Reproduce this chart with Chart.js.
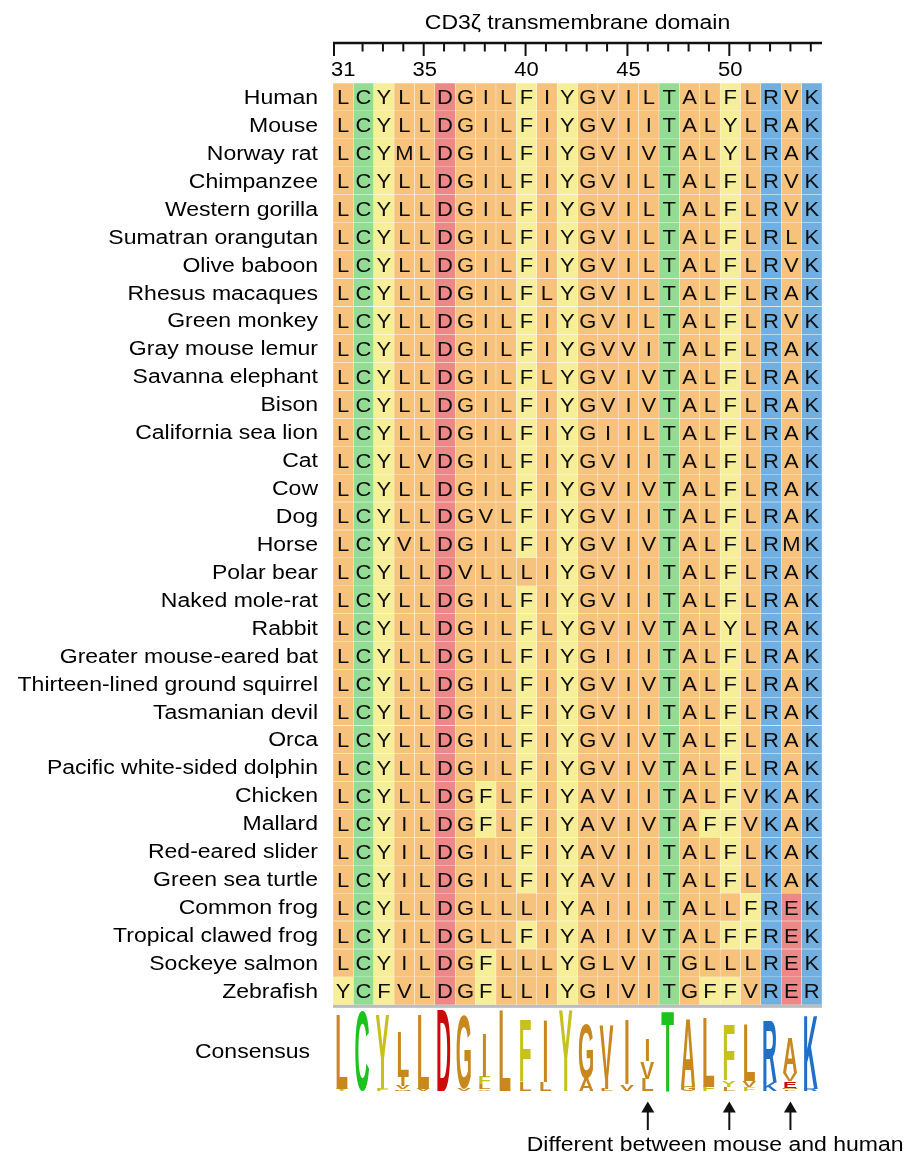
<!DOCTYPE html>
<html>
<head>
<meta charset="utf-8">
<title>CD3ζ transmembrane domain alignment</title>
<style>
  html, body { margin: 0; padding: 0; background: #ffffff; }
  #wrap { width: 913px; height: 1163px; position: relative; }
</style>
<script src="https://cdn.jsdelivr.net/npm/chart.js@4.4.1/dist/chart.umd.min.js"></script>
</head>
<body>
<div id="wrap"><canvas id="chart" width="913" height="1163"></canvas></div>
<script>
// Residue positions of the CD3ζ transmembrane domain
const positions = [31, 32, 33, 34, 35, 36, 37, 38, 39, 40, 41, 42,
                   43, 44, 45, 46, 47, 48, 49, 50, 51, 52, 53, 54];
// Positions that carry a number on the ruler
const labeledPositions = [31, 35, 40, 45, 50];

const species = [
  'Human', 'Mouse', 'Norway rat', 'Chimpanzee', 'Western gorilla',
  'Sumatran orangutan', 'Olive baboon', 'Rhesus macaques', 'Green monkey',
  'Gray mouse lemur', 'Savanna elephant', 'Bison', 'California sea lion',
  'Cat', 'Cow', 'Dog', 'Horse', 'Polar bear', 'Naked mole-rat', 'Rabbit',
  'Greater mouse-eared bat', 'Thirteen-lined ground squirrel',
  'Tasmanian devil', 'Orca', 'Pacific white-sided dolphin', 'Chicken',
  'Mallard', 'Red-eared slider', 'Green sea turtle', 'Common frog',
  'Tropical clawed frog', 'Sockeye salmon', 'Zebrafish'
];

// One aligned sequence per species, one residue per position
const sequences = [
  'LCYLLDGILFIYGVILTALFLRVK', // Human
  'LCYLLDGILFIYGVIITALYLRAK', // Mouse
  'LCYMLDGILFIYGVIVTALYLRAK', // Norway rat
  'LCYLLDGILFIYGVILTALFLRVK', // Chimpanzee
  'LCYLLDGILFIYGVILTALFLRVK', // Western gorilla
  'LCYLLDGILFIYGVILTALFLRLK', // Sumatran orangutan
  'LCYLLDGILFIYGVILTALFLRVK', // Olive baboon
  'LCYLLDGILFLYGVILTALFLRAK', // Rhesus macaques
  'LCYLLDGILFIYGVILTALFLRVK', // Green monkey
  'LCYLLDGILFIYGVVITALFLRAK', // Gray mouse lemur
  'LCYLLDGILFLYGVIVTALFLRAK', // Savanna elephant
  'LCYLLDGILFIYGVIVTALFLRAK', // Bison
  'LCYLLDGILFIYGIILTALFLRAK', // California sea lion
  'LCYLVDGILFIYGVIITALFLRAK', // Cat
  'LCYLLDGILFIYGVIVTALFLRAK', // Cow
  'LCYLLDGVLFIYGVIITALFLRAK', // Dog
  'LCYVLDGILFIYGVIVTALFLRMK', // Horse
  'LCYLLDVLLLIYGVIITALFLRAK', // Polar bear
  'LCYLLDGILFIYGVIITALFLRAK', // Naked mole-rat
  'LCYLLDGILFLYGVIVTALYLRAK', // Rabbit
  'LCYLLDGILFIYGIIITALFLRAK', // Greater mouse-eared bat
  'LCYLLDGILFIYGVIVTALFLRAK', // Thirteen-lined ground squirrel
  'LCYLLDGILFIYGVIITALFLRAK', // Tasmanian devil
  'LCYLLDGILFIYGVIVTALFLRAK', // Orca
  'LCYLLDGILFIYGVIVTALFLRAK', // Pacific white-sided dolphin
  'LCYLLDGFLFIYAVIITALFVKAK', // Chicken
  'LCYILDGFLFIYAVIVTAFFVKAK', // Mallard
  'LCYILDGILFIYAVIITALFLKAK', // Red-eared slider
  'LCYILDGILFIYAVIITALFLKAK', // Green sea turtle
  'LCYLLDGLLLIYAIIITALLFREK', // Common frog
  'LCYILDGLLFIYAIIVTALFFREK', // Tropical clawed frog
  'LCYILDGFLLLYGLVITGLLLREK', // Sockeye salmon
  'YCFVLDGFLLIYGIVITGFFVRER'  // Zebrafish
];

const domainTitle = 'CD3\u03B6 transmembrane domain';
const consensusLabel = 'Consensus';
const noteText = 'Different between mouse and human';

// ---- colour schemes (by residue chemistry) ----
const cellColor = {
  hydrophobic: '#f7c27b', aromatic: '#f6ee98', polar: '#93dc93',
  acidic: '#ec8888', basic: '#70afe0'
};
const logoColor = {
  hydrophobic: '#c8881e', aromatic: '#c6c11c', polar: '#1ec21e',
  acidic: '#cc0a0a', basic: '#1f70c6'
};
function residueClass(r) {
  if ('FYW'.includes(r)) return 'aromatic';
  if ('CTSNQ'.includes(r)) return 'polar';
  if ('DE'.includes(r)) return 'acidic';
  if ('RKH'.includes(r)) return 'basic';
  return 'hydrophobic';
}

// ---- geometry of the plot area ----
const AREA = { left: 333, right: 822, top: 83, bottom: 1111 };
const ROW_MAX = 36.3;                 // row axis runs from -0.5 to here
const MAX_BITS = Math.log2(20);       // information ceiling for protein
const LOGO_BASE_PX = 20;              // logo baseline above plot bottom
const LOGO_FULL_PX = 80;              // height of a fully conserved stack
const pxPerBit = LOGO_FULL_PX / MAX_BITS;
const logoMin = -LOGO_BASE_PX / pxPerBit;
const logoMax = logoMin + (AREA.bottom - AREA.top) / pxPerBit;

// ---- alignment rows: one floating bar per residue ----
const rowDatasets = sequences.map((seq, i) => {
  const residues = seq.split('');
  return {
    kind: 'row',
    label: species[i],
    residues,
    data: positions.map(() => [i - 0.5, i + 0.5]),
    backgroundColor: residues.map(r => cellColor[residueClass(r)]),
    borderColor: 'rgba(255,255,255,0.45)',
    borderWidth: 0.5,
    borderSkipped: false,
    grouped: false,
    barPercentage: 1,
    categoryPercentage: 1,
    yAxisID: 'y'
  };
});

// ---- consensus logo: letter stacks built from residue frequencies ----
const stacks = positions.map((p, j) => {
  const counts = {};
  sequences.forEach(s => { counts[s[j]] = (counts[s[j]] || 0) + 1; });
  const n = sequences.length;
  let entropy = 0;
  Object.values(counts).forEach(c => { const f = c / n; entropy -= f * Math.log2(f); });
  const info = MAX_BITS - entropy;
  return Object.entries(counts)
    .map(([r, c]) => ({ r, bits: (c / n) * info, c }))
    .sort((a, b) => a.bits - b.bits || a.r.localeCompare(b.r));
});
const stackDepth = Math.max(...stacks.map(s => s.length));
const logoDatasets = [];
for (let k = 0; k < stackDepth; k++) {
  const letters = [], data = [];
  stacks.forEach(st => {
    if (k < st.length) {
      let base = 0;
      for (let m = 0; m < k; m++) base += st[m].bits;
      data.push([base, base + st[k].bits]);
      letters.push(st[k].r);
    } else {
      data.push(null);
      letters.push(null);
    }
  });
  logoDatasets.push({
    kind: 'logo',
    label: 'consensus ' + k,
    letters,
    data,
    backgroundColor: 'rgba(0,0,0,0)',
    borderWidth: 0,
    grouped: false,
    barPercentage: 0.74,
    categoryPercentage: 1,
    yAxisID: 'yLogo'
  });
}

// Positions where human and mouse differ get an arrow
const humanSeq = sequences[species.indexOf('Human')];
const mouseSeq = sequences[species.indexOf('Mouse')];
const differingPositions = positions.filter((p, j) => humanSeq[j] !== mouseSeq[j]);

// ---- drawing helpers ----
const FONT = '20px "Liberation Sans", Arial, Helvetica, sans-serif';
const GLYPH_FONT = 'bold 100px "Liberation Sans", Arial, Helvetica, sans-serif';
function wideText(ctx, text, x, y, align, sx) {
  ctx.save();
  ctx.translate(x, y);
  ctx.scale(sx, 1);
  ctx.textAlign = align;
  ctx.textBaseline = 'alphabetic';
  ctx.fillText(text, 0, 0);
  ctx.restore();
}
// Logo glyph: stretched vertically to the stack slot; horizontally all
// letters share one scale (an "H" fills the slot), so narrow letters stay narrow.
function fillGlyph(ctx, ch, cx, top, w, h, color) {
  if (h < 0.2) return;
  ctx.save();
  ctx.font = GLYPH_FONT;
  const ref = ctx.measureText('H').width;
  const m = ctx.measureText(ch);
  const gh = m.actualBoundingBoxAscent + m.actualBoundingBoxDescent;
  ctx.translate(cx, top);
  ctx.scale(w / ref, h / gh);
  ctx.fillStyle = color;
  ctx.textAlign = 'center';
  ctx.textBaseline = 'alphabetic';
  ctx.fillText(ch, 0, m.actualBoundingBoxAscent);
  ctx.restore();
}

const alignmentDecor = {
  id: 'alignmentDecor',
  afterDraw(chart) {
    const { ctx, chartArea: a, scales } = chart;
    const x = scales.x, y = scales.y, yLogo = scales.yLogo;
    ctx.save();

    // residue letters in the cells and consensus glyphs
    chart.data.datasets.forEach((ds, di) => {
      const meta = chart.getDatasetMeta(di);
      if (ds.kind === 'row') {
        ctx.font = FONT;
        ctx.fillStyle = '#0d0d0d';
        meta.data.forEach((el, j) => {
          const cy = (el.y + el.base) / 2;
          wideText(ctx, ds.residues[j], el.x, cy + 7.5, 'center', 1.1);
        });
      } else if (ds.kind === 'logo') {
        meta.data.forEach((el, j) => {
          const r = ds.letters[j];
          if (!r || el.skip) return;
          const top = Math.min(el.y, el.base);
          const h = Math.abs(el.base - el.y);
          fillGlyph(ctx, r, el.x - 1.5, top, el.width, h,
                    logoColor[residueClass(r)]);
        });
      }
    });

    // grey rule under the alignment
    const ruleY = y.getPixelForValue(sequences.length - 0.5);
    ctx.fillStyle = '#bdbdbd';
    ctx.fillRect(a.left, ruleY, a.right - a.left, 3);

    // species names
    ctx.font = FONT;
    ctx.fillStyle = '#000';
    species.forEach((name, i) => {
      wideText(ctx, name, 318, y.getPixelForValue(i) + 7, 'right', 1.15);
    });
    wideText(ctx, consensusLabel, 310, yLogo.getPixelForValue(MAX_BITS / 2) + 7, 'right', 1.15);

    // position ruler along the top
    const axisY = 43;
    ctx.strokeStyle = '#111';
    ctx.lineWidth = 2.5;
    ctx.beginPath();
    ctx.moveTo(a.left, axisY);
    ctx.lineTo(a.right, axisY);
    ctx.stroke();
    ctx.lineWidth = 2;
    positions.forEach((p, j) => {
      const major = labeledPositions.includes(p);
      const tx = j === 0 ? a.left + 1 : x.getPixelForValue(j) - 1;
      ctx.beginPath();
      ctx.moveTo(tx, axisY);
      ctx.lineTo(tx, axisY + (major ? 13 : 8.5));
      ctx.stroke();
      if (major) {
        wideText(ctx, String(p), x.getPixelForValue(j), 75.5, 'center', 1.1);
      }
    });
    wideText(ctx, domainTitle, (a.left + a.right) / 2, 28.5, 'center', 1.15);

    // arrows marking human/mouse differences
    ctx.fillStyle = '#111';
    ctx.strokeStyle = '#111';
    ctx.lineWidth = 2;
    const arrowXs = differingPositions.map(p => x.getPixelForValue(positions.indexOf(p)) - 1);
    arrowXs.forEach(ax => {
      ctx.beginPath();
      ctx.moveTo(ax, 1110);
      ctx.lineTo(ax, 1130);
      ctx.stroke();
      ctx.beginPath();
      ctx.moveTo(ax, 1101.5);
      ctx.lineTo(ax - 6.5, 1112.5);
      ctx.lineTo(ax + 6.5, 1112.5);
      ctx.closePath();
      ctx.fill();
    });
    ctx.fillStyle = '#000';
    const noteCenter = (arrowXs[0] + arrowXs[arrowXs.length - 1]) / 2 - 4;
    wideText(ctx, noteText, noteCenter, 1150.5, 'center', 1.15);

    ctx.restore();
  }
};

new Chart(document.getElementById('chart'), {
  type: 'bar',
  data: {
    labels: positions.map(String),
    datasets: [...rowDatasets, ...logoDatasets]
  },
  options: {
    responsive: false,
    animation: false,
    devicePixelRatio: 1,
    layout: {
      padding: {
        left: AREA.left, right: 913 - AREA.right,
        top: AREA.top, bottom: 1163 - AREA.bottom
      }
    },
    plugins: { legend: { display: false }, tooltip: { enabled: false }, title: { display: false } },
    scales: {
      x: { type: 'category', offset: true, display: false, grid: { display: false } },
      y: { type: 'linear', reverse: true, min: -0.5, max: ROW_MAX, display: false },
      yLogo: { type: 'linear', min: logoMin, max: logoMax, display: false }
    }
  },
  plugins: [alignmentDecor]
});
</script>
</body>
</html>
